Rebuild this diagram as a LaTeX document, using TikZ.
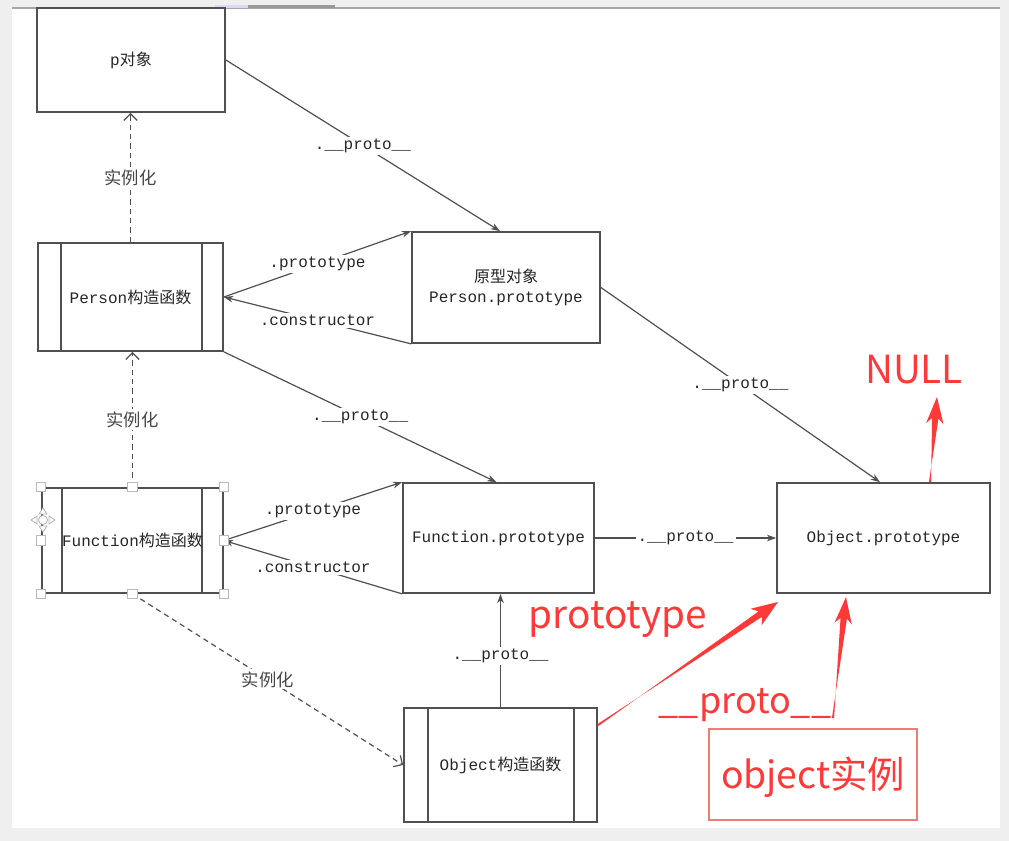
\documentclass[tikz,border=0pt]{standalone}
\usepackage{fontspec}
\newfontfamily\monof{Liberation Mono}
\newfontfamily\cjk{Noto Sans CJK SC}
\usetikzlibrary{arrows.meta,calc}
\definecolor{bg}{HTML}{EFEFEF}
\definecolor{ln}{HTML}{505050}
\definecolor{txt}{HTML}{262626}
\definecolor{rd}{HTML}{FF3838}
\definecolor{rdbox}{HTML}{F27A7A}
\newcommand\redarr[3]{% tail, tip, head half width
  \fill[rd] ($(#1)!0.8pt!90:(#2)$)
    -- ($(#2)!16pt!(#1)!2.4pt!90:(#1)$)
    -- ($(#2)!20pt!(#1)!#3!90:(#1)$)
    -- (#2)
    -- ($(#2)!20pt!(#1)!#3!-90:(#1)$)
    -- ($(#2)!16pt!(#1)!2.4pt!-90:(#1)$)
    -- ($(#1)!0.8pt!-90:(#2)$) -- cycle;}
\begin{document}
\begin{tikzpicture}[x=0.75pt,y=-0.75pt,
  box/.style={draw=ln, line width=1.3pt, fill=white, inner sep=0pt, text=txt,
    font=\monof\fontsize{12}{15}\selectfont, align=center},
  lbl/.style={fill=white, inner sep=1.5pt, text=txt, font=\monof\fontsize{12}{14}\selectfont},
  cnl/.style={fill=white, inner sep=1.5pt, text=txt!85, font=\cjk\fontsize{13}{15}\selectfont},
  arr/.style={draw=ln, line width=0.9pt, -{Stealth[length=7pt,width=5pt]}},
  darr/.style={draw=ln, line width=0.9pt, dash pattern=on 4pt off 3pt, -{Straight Barb[length=5pt,width=10pt]}},
  handle/.style={draw=gray!55, line width=0.6pt, fill=white, minimum size=7pt, inner sep=0pt},
  rtxt/.style={text=rd, font=\cjk\fontsize{29}{32}\selectfont, inner sep=0pt, anchor=base}]
\useasboundingbox (0,0) rectangle (1009,841);
\fill[bg] (0,0) rectangle (1009,841);
\fill[white] (12,8) rectangle (1000,828);
\draw[gray!70, line width=1.4pt] (12,8) -- (1000,8);
\fill[blue!15] (215,5) rectangle (248,8);
\fill[gray!80] (248,5) rectangle (335,8);

% boxes
\node[box, minimum width=141pt, minimum height=78pt] (p) at (131,60) {p{\cjk 对象}};
\node[box, minimum width=138.75pt, minimum height=81pt] (person) at (130.5,297) {Person{\cjk 构造函数}};
\draw[ln, line width=1.3pt] ($(person.north west)+(24,0)$) -- ($(person.south west)+(24,0)$);
\draw[ln, line width=1.3pt] ($(person.north east)+(-22,0)$) -- ($(person.south east)+(-22,0)$);
\node[box, minimum width=141pt, minimum height=83.25pt] (proto) at (506,287.5) {{\cjk 原型对象}\\Person.prototype};
\node[box, minimum width=135.75pt, minimum height=78.75pt] (fn) at (132.5,540.5) {};
\draw[ln, line width=1.3pt] ($(fn.north west)+(21,0)$) -- ($(fn.south west)+(21,0)$);
\draw[ln, line width=1.3pt] ($(fn.north east)+(-22,0)$) -- ($(fn.south east)+(-22,0)$);
\node[text=txt, font=\monof\fontsize{12}{15}\selectfont, inner sep=0pt] (fntext) at (fn.center) {Function{\cjk 构造函数}};
\node[box, minimum width=143.25pt, minimum height=82.5pt] (fp) at (498.5,538) {Function.prototype};
\node[box, minimum width=159.75pt, minimum height=82.5pt] (op) at (883.5,538) {Object.prototype};
\node[box, minimum width=144.75pt, minimum height=85.5pt] (oc) at (500.5,765) {Object{\cjk 构造函数}};
\draw[ln, line width=1.3pt] ($(oc.north west)+(25,0)$) -- ($(oc.south west)+(25,0)$);
\draw[ln, line width=1.3pt] ($(oc.north east)+(-24,0)$) -- ($(oc.south east)+(-24,0)$);
\node[draw=rdbox, line width=0.9pt, minimum width=156pt, minimum height=68.25pt, inner sep=0pt] (rb) at (813,774.5) {};

% connectors
\draw[arr] (p.east) -- node[lbl]{.\_\_proto\_\_} ($(proto.north)+(-6,0)$);
\draw[arr] (person.east) -- node[lbl]{.prototype} (proto.north west);
\draw[arr] (proto.south west) -- node[lbl]{.constructor} (person.east);
\draw[arr] (person.south east) -- node[lbl]{.\_\_proto\_\_} ($(fp.north)+(-2,0)$);
\draw[arr] (proto.east) -- node[lbl]{.\_\_proto\_\_} ($(op.north)+(-3.5,0)$);
\draw[darr] (person.north) -- node[cnl]{实例化} (p.south -| person.north);
\draw[darr] (fn.north) -- node[cnl]{实例化} (person.south -| fn.north);
\draw[arr] (fn.east) -- node[lbl]{.prototype} (fp.north west);
\draw[arr] (fp.south west) -- node[lbl]{.constructor} (fn.east);
\draw[arr] (fp.east) -- node[lbl]{.\_\_proto\_\_} (op.west);
\draw[arr] (oc.north) -- node[lbl, pos=0.45]{.\_\_proto\_\_} (oc.north |- fp.south);
\draw[darr] (fn.south) -- node[cnl]{实例化} (oc.west);

% selection handles on Function constructor
\foreach \a in {north west,north,north east,west,east,south west,south,south east}
  \node[handle] at (fn.\a) {};
\draw[gray!60, line width=0.6pt, fill=white] (43,520) circle (4.5);
\foreach \r in {0,90,180,270}
  \draw[gray!60, line width=0.6pt, fill=white, rotate around={\r:(43,520)}]
    (49,516) -- (55,520) -- (49,524) -- cycle;

% red annotations
\coordinate (r1a) at (598,725); \coordinate (r1b) at (778,602);
\coordinate (r2a) at (833,718); \coordinate (r2b) at (846,597);
\coordinate (r3a) at (930,482); \coordinate (r3b) at (937,397);
\redarr{r1a}{r1b}{7.5pt}
\redarr{r2a}{r2b}{6.5pt}
\redarr{r3a}{r3b}{6.5pt}
\node[rtxt] (tnull) at (914,383) {NULL};
\node[rtxt] (tproto) at (618,628) {prototype};
\node[rtxt, font=\cjk\fontsize{27}{30}\selectfont] (tpr) at (745,713) {\_\_proto\_\_};
\node[rtxt, font=\cjk\fontsize{28}{30}\selectfont] (tobj) at (813,788) {object实例};
\end{tikzpicture}
\end{document}
